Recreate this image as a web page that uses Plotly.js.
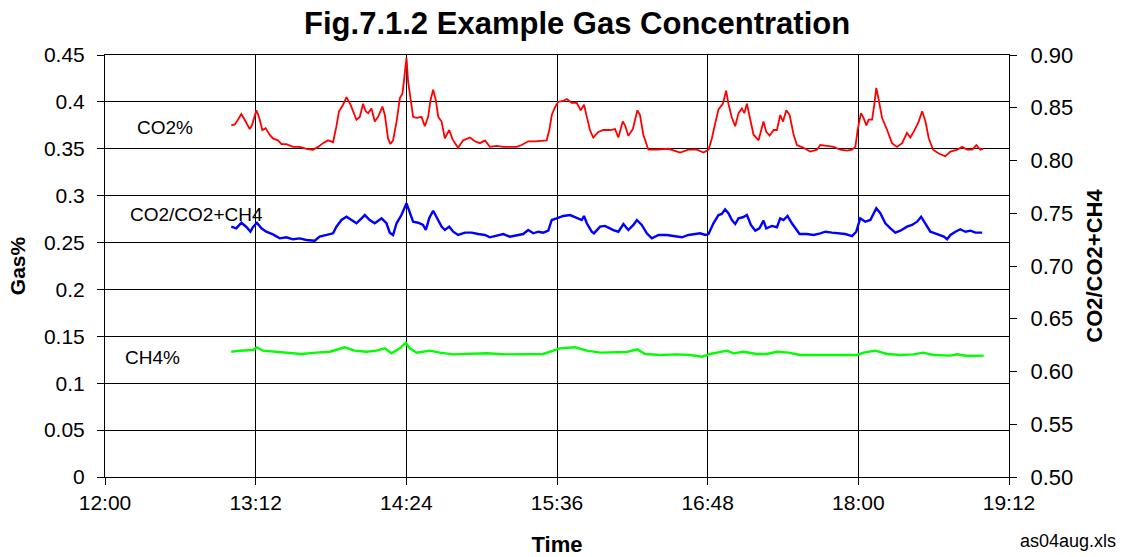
<!DOCTYPE html>
<html>
<head>
<meta charset="utf-8">
<script src="https://cdn.plot.ly/plotly-3.0.1.min.js"></script>
<style>
  html, body { margin: 0; padding: 0; background: #ffffff; }
  #chart { width: 1125px; height: 557px; }
</style>
</head>
<body>
<div id="chart"></div>
<script>
// ---- Data ----
const day = '2004-08-04 ';

const xTickLabels = ['12:00', '13:12', '14:24', '15:36', '16:48', '18:00', '19:12'];

const co2Times = [
  '13:00:20','13:02:00','13:03:30','13:05:10','13:06:45','13:09:10','13:10:15','13:12:20','13:13:35','13:15:10',
  '13:16:45','13:18:40','13:20:15','13:22:40','13:24:20','13:26:40','13:29:50','13:33:05','13:36:15','13:39:25',
  '13:41:50','13:44:10','13:46:35','13:49:00','13:50:35','13:51:50','13:53:45','13:55:25','13:57:20','13:58:35',
  '14:00:10','14:01:45','14:03:20','14:04:35','14:05:45','14:07:20','14:08:55','14:10:30','14:12:35','14:13:45',
  '14:15:15','14:16:25','14:17:40','14:19:20','14:20:55','14:22:10','14:23:15','14:24:05','14:24:50','14:26:00',
  '14:27:15','14:28:55','14:31:15','14:32:50','14:34:25','14:35:35','14:36:50','14:38:05','14:39:15','14:40:50',
  '14:42:25','14:44:30','14:46:05','14:48:45','14:51:10','14:54:25','14:56:45','14:59:10','15:01:35','15:03:55',
  '15:07:10','15:10:20','15:13:30','15:16:45','15:19:05','15:22:15','15:25:30','15:28:40','15:31:05','15:32:20',
  '15:33:30','15:35:00','15:36:35','15:39:00','15:40:40','15:43:00','15:45:25','15:47:20','15:48:55','15:50:15',
  '15:51:45','15:53:20','15:55:45','15:58:10','16:01:20','16:03:45','16:05:20','16:07:25','16:08:30','16:10:05',
  '16:12:15','16:14:25','16:15:40','16:17:15','16:19:40','16:23:40','16:29:15','16:34:50','16:38:50','16:42:50',
  '16:46:00','16:48:25','16:50:00','16:51:35','16:53:10','16:55:15','16:56:50','16:57:55','16:59:35','17:01:10',
  '17:02:45','17:04:20','17:05:30','17:06:45','17:08:00','17:09:55','17:12:20','17:14:40','17:16:00','17:17:35',
  '17:19:30','17:21:05','17:22:40','17:24:00','17:25:35','17:27:10','17:29:05','17:30:40','17:33:50','17:37:00',
  '17:40:15','17:41:50','17:45:00','17:48:10','17:51:25','17:54:35','17:57:00','17:58:35','17:59:40','18:01:15',
  '18:02:30','18:03:50','18:04:55','18:06:35','18:07:40','18:08:35','18:09:45','18:11:20','18:13:45','18:16:05',
  '18:18:30','18:20:55','18:23:15','18:24:50','18:26:25','18:28:50','18:30:30','18:32:05','18:33:40','18:35:45',
  '18:38:25','18:41:35','18:44:00','18:47:15','18:49:35','18:52:00','18:54:25','18:56:25','18:58:20','18:59:40'
];
const co2Pct = [
  0.375,0.376,0.381,0.387,0.381,0.371,0.375,0.391,0.384,0.370,
  0.372,0.365,0.361,0.359,0.355,0.355,0.352,0.352,0.350,0.349,
  0.352,0.356,0.359,0.357,0.374,0.390,0.397,0.405,0.397,0.390,
  0.381,0.384,0.398,0.390,0.388,0.393,0.379,0.384,0.395,0.386,
  0.361,0.355,0.359,0.379,0.404,0.409,0.434,0.447,0.422,0.402,
  0.384,0.383,0.384,0.374,0.384,0.402,0.413,0.402,0.384,0.379,
  0.361,0.370,0.360,0.351,0.359,0.362,0.358,0.356,0.359,0.352,
  0.353,0.352,0.352,0.352,0.354,0.358,0.358,0.359,0.359,0.370,
  0.386,0.394,0.400,0.401,0.403,0.399,0.399,0.391,0.397,0.384,
  0.370,0.362,0.368,0.370,0.370,0.371,0.362,0.379,0.375,0.364,
  0.371,0.391,0.386,0.365,0.349,0.349,0.350,0.346,0.349,0.349,
  0.346,0.349,0.361,0.377,0.392,0.398,0.412,0.398,0.383,0.374,
  0.388,0.393,0.388,0.398,0.384,0.365,0.359,0.379,0.368,0.364,
  0.370,0.370,0.386,0.379,0.391,0.386,0.365,0.354,0.351,0.347,
  0.349,0.354,0.353,0.352,0.349,0.348,0.349,0.352,0.370,0.388,
  0.383,0.375,0.381,0.381,0.398,0.415,0.402,0.383,0.370,0.356,
  0.352,0.356,0.367,0.362,0.368,0.379,0.390,0.379,0.361,0.349,
  0.345,0.342,0.347,0.349,0.352,0.349,0.349,0.354,0.349,0.350
];

const ratioTimes = [
  '13:00:20','13:02:45','13:05:10','13:07:35','13:09:30','13:10:40','13:12:35','13:14:45','13:17:05','13:20:15',
  '13:23:30','13:26:40','13:29:50','13:33:05','13:36:15','13:40:15','13:42:35','13:45:50','13:49:00','13:50:35',
  '13:53:00','13:55:25','13:57:45','14:00:10','14:02:35','14:04:10','14:06:30','14:08:55','14:12:10','14:14:30',
  '14:16:05','14:17:40','14:19:20','14:21:40','14:24:05','14:25:40','14:27:15','14:29:40','14:32:00','14:33:20',
  '14:34:55','14:36:50','14:38:45','14:40:50','14:42:25','14:44:30','14:46:25','14:48:45','14:52:00','14:55:10',
  '14:58:20','15:01:35','15:03:55','15:07:10','15:10:20','15:13:30','15:16:45','15:19:50','15:22:15','15:24:40',
  '15:27:05','15:29:25','15:31:50','15:33:30','15:35:50','15:39:00','15:42:15','15:45:25','15:47:50','15:48:55',
  '15:50:15','15:52:35','15:53:40','15:56:35','15:58:55','16:01:20','16:02:55','16:05:20','16:07:45','16:10:05',
  '16:12:30','16:14:10','16:16:30','16:18:55','16:21:20','16:24:30','16:28:30','16:31:40','16:35:40','16:38:50',
  '16:42:00','16:44:25','16:46:50','16:48:25','16:50:45','16:53:10','16:54:45','16:56:20','16:57:55','16:59:35',
  '17:01:10','17:02:45','17:04:50','17:06:45','17:08:40','17:10:45','17:12:45','17:14:40','17:16:00','17:18:45',
  '17:21:05','17:22:40','17:24:15','17:26:10','17:28:15','17:30:40','17:31:55','17:35:25','17:38:35','17:41:50',
  '17:44:15','17:47:25','17:50:35','17:53:45','17:57:00','17:59:00','18:00:55','18:03:20','18:05:45','18:08:35',
  '18:10:30','18:12:55','18:15:20','18:17:40','18:20:05','18:23:15','18:25:40','18:28:05','18:30:00','18:32:05',
  '18:34:25','18:37:40','18:40:50','18:42:25','18:44:00','18:46:25','18:48:45','18:51:10','18:53:35','18:56:00',
  '18:59:10'
];
const ratio = [
  0.7373,0.7357,0.7410,0.7370,0.7325,0.7367,0.7410,0.7357,0.7325,0.7300,
  0.7262,0.7272,0.7253,0.7262,0.7247,0.7240,0.7278,0.7294,0.7310,0.7373,
  0.7436,0.7467,0.7436,0.7405,0.7452,0.7483,0.7436,0.7405,0.7452,0.7405,
  0.7316,0.7294,0.7405,0.7483,0.7594,0.7500,0.7420,0.7410,0.7389,0.7341,
  0.7452,0.7524,0.7452,0.7373,0.7341,0.7373,0.7325,0.7294,0.7316,0.7316,
  0.7303,0.7294,0.7272,0.7291,0.7303,0.7278,0.7294,0.7303,0.7341,0.7310,
  0.7325,0.7316,0.7335,0.7436,0.7452,0.7474,0.7483,0.7452,0.7436,0.7474,
  0.7405,0.7325,0.7310,0.7373,0.7380,0.7357,0.7341,0.7325,0.7398,0.7341,
  0.7389,0.7436,0.7389,0.7310,0.7262,0.7294,0.7294,0.7284,0.7272,0.7294,
  0.7303,0.7310,0.7294,0.7303,0.7405,0.7483,0.7493,0.7537,0.7500,0.7436,
  0.7398,0.7452,0.7462,0.7483,0.7389,0.7335,0.7357,0.7430,0.7357,0.7380,
  0.7367,0.7452,0.7436,0.7474,0.7405,0.7341,0.7303,0.7303,0.7294,0.7310,
  0.7325,0.7316,0.7310,0.7303,0.7284,0.7325,0.7452,0.7420,0.7436,0.7547,
  0.7500,0.7405,0.7357,0.7316,0.7335,0.7373,0.7389,0.7420,0.7467,0.7405,
  0.7325,0.7303,0.7278,0.7253,0.7294,0.7325,0.7348,0.7325,0.7335,0.7316,
  0.7316
];

const ch4Times = [
  '13:00:20','13:04:20','13:10:40','13:12:35','13:15:30','13:20:15','13:26:40','13:33:50','13:41:00','13:47:25',
  '13:54:35','13:59:20','14:04:55','14:09:45','14:13:45','14:16:55','14:20:55','14:23:45','14:25:40','14:28:55',
  '14:35:15','14:40:00','14:46:25','14:56:00','15:02:20','15:11:55','15:21:30','15:29:25','15:34:15','15:37:25',
  '15:44:35','15:50:15','15:56:35','16:02:55','16:09:20','16:14:25','16:18:05','16:25:15','16:33:15','16:39:40',
  '16:45:15','16:49:10','16:57:10','17:00:20','17:05:05','17:11:30','17:16:20','17:21:05','17:26:40','17:32:15',
  '17:41:50','17:51:25','17:59:20','18:02:30','18:08:10','18:13:45','18:20:05','18:26:25','18:30:55','18:36:00',
  '18:44:00','18:47:15','18:52:00','18:59:55'
];
const ch4Pct = [
  0.1336,0.1347,0.1354,0.1383,0.1347,0.1336,0.1326,0.1312,0.1326,0.1336,
  0.1383,0.1347,0.1336,0.1347,0.1372,0.1319,0.1372,0.1432,0.1372,0.1326,
  0.1347,0.1326,0.1308,0.1319,0.1319,0.1308,0.1308,0.1312,0.1347,0.1372,
  0.1383,0.1347,0.1326,0.1326,0.1333,0.1361,0.1312,0.1301,0.1308,0.1301,
  0.1283,0.1312,0.1347,0.1319,0.1336,0.1312,0.1312,0.1336,0.1326,0.1301,
  0.1301,0.1301,0.1301,0.1326,0.1347,0.1312,0.1301,0.1308,0.1326,0.1301,
  0.1294,0.1308,0.1290,0.1294
];

const seriesLabels = ['CO2%', 'CO2/CO2+CH4', 'CH4%'];

// ---- Chart ----
const FONT = 'Liberation Sans, Arial, Helvetica, sans-serif';
const withDay = arr => arr.map(t => day + t);

const traces = [
  {
    type: 'scatter', mode: 'lines', name: seriesLabels[0],
    x: withDay(co2Times), y: co2Pct, xaxis: 'x', yaxis: 'y',
    line: { color: '#ff0000', width: 1.8 }
  },
  {
    type: 'scatter', mode: 'lines', name: seriesLabels[1],
    x: withDay(ratioTimes), y: ratio, xaxis: 'x', yaxis: 'y2',
    line: { color: '#0000ff', width: 2.4 }
  },
  {
    type: 'scatter', mode: 'lines', name: seriesLabels[2],
    x: withDay(ch4Times), y: ch4Pct, xaxis: 'x', yaxis: 'y',
    line: { color: '#00ff00', width: 2.4 }
  }
];

const xRange = [day + xTickLabels[0], day + xTickLabels[xTickLabels.length - 1]];

const annFont = { size: 19, family: FONT, color: '#000000' };

const layout = {
  width: 1125, height: 557,
  margin: { l: 105, r: 116, t: 55, b: 80 },
  paper_bgcolor: '#ffffff', plot_bgcolor: '#ffffff',
  font: { family: FONT, color: '#000000' },
  showlegend: false,
  title: {
    text: '<b>Fig.7.1.2 Example Gas Concentration</b>',
    font: { size: 31, family: FONT, color: '#000000' },
    xref: 'container', x: 0.513, xanchor: 'center',
    yref: 'container', y: 0.958, yanchor: 'middle'
  },
  xaxis: {
    type: 'date', range: xRange,
    tickmode: 'array', tickvals: withDay(xTickLabels), ticktext: xTickLabels,
    showgrid: true, gridcolor: '#000000', gridwidth: 1,
    showline: true, linecolor: '#000000', linewidth: 1, mirror: true,
    ticks: 'outside', ticklen: 7, tickcolor: '#000000',
    tickfont: { size: 21, family: FONT },
    zeroline: false,
    title: { text: '<b>Time</b>', font: { size: 22, family: FONT }, standoff: 24 }
  },
  yaxis: {
    range: [0, 0.45], tick0: 0, dtick: 0.05,
    showgrid: true, gridcolor: '#000000', gridwidth: 1,
    showline: true, linecolor: '#000000', linewidth: 1,
    ticks: 'outside', ticklen: 7, tickcolor: '#000000',
    ticklabelstandoff: 8,
    tickfont: { size: 21, family: FONT },
    zeroline: false,
    title: { text: '<b>Gas%</b>', font: { size: 21, family: FONT }, standoff: 12 }
  },
  yaxis2: {
    overlaying: 'y', side: 'right', anchor: 'x',
    range: [0.5, 0.9], tick0: 0.5, dtick: 0.05, tickformat: '.2f',
    showgrid: false, showline: true, linecolor: '#000000', linewidth: 1,
    ticks: 'outside', ticklen: 7, tickcolor: '#000000',
    ticklabelstandoff: 9,
    tickfont: { size: 22, family: FONT },
    zeroline: false,
    title: { text: '<b>CO2/CO2+CH4</b>', font: { size: 22, family: FONT }, standoff: 14 }
  },
  yaxis3: {
    overlaying: 'y', side: 'left', anchor: 'x',
    range: [0, 0.45], tick0: 0, dtick: 0.05,
    showgrid: false, showline: false, zeroline: false,
    ticks: 'inside', ticklen: 7, tickcolor: '#000000', showticklabels: false
  },
  yaxis4: {
    overlaying: 'y', side: 'right', anchor: 'x',
    range: [0.5, 0.9], tick0: 0.5, dtick: 0.05,
    showgrid: false, showline: false, zeroline: false,
    ticks: 'inside', ticklen: 7, tickcolor: '#000000', showticklabels: false
  },
  annotations: [
    { text: seriesLabels[0], xref: 'paper', yref: 'paper', x: 0.066, y: 0.829,
      xanchor: 'center', yanchor: 'middle', showarrow: false, font: annFont },
    { text: seriesLabels[1], xref: 'paper', yref: 'paper', x: 0.1007, y: 0.621,
      xanchor: 'center', yanchor: 'middle', showarrow: false, font: annFont },
    { text: seriesLabels[2], xref: 'paper', yref: 'paper', x: 0.053, y: 0.284,
      xanchor: 'center', yanchor: 'middle', showarrow: false, font: annFont },
    { text: 'as04aug.xls', xref: 'paper', yref: 'paper', x: 1.065, y: -0.152,
      xanchor: 'center', yanchor: 'middle', showarrow: false,
      font: { size: 18, family: FONT, color: '#000000' } }
  ]
};

Plotly.newPlot('chart', traces, layout, { displayModeBar: false, staticPlot: true });
</script>
</body>
</html>
